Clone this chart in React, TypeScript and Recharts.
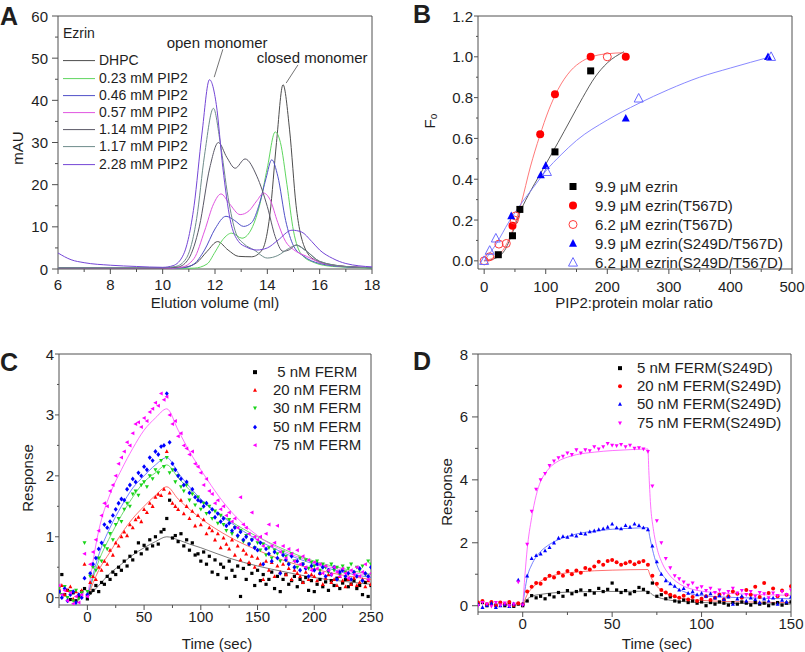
import React from 'react';
import { ComposedChart, Line, Scatter, XAxis, YAxis, ReferenceArea, ReferenceLine, ReferenceDot, Legend } from 'recharts';

const FONT = '"Liberation Sans", Arial, Helvetica, sans-serif';
const INK = '#1e1e1e';
const AX = '#505050';

// ---------- A: elution profiles (x = ml, y = mAU)
const A_NAMES = ['DHPC', '0.23 mM PIP2', '0.46 mM PIP2', '0.57 mM PIP2', '1.14 mM PIP2', '1.17 mM PIP2', '2.28 mM PIP2'];
const A_COLORS = ['#4d4d4d', '#5fd65f', '#5050c8', '#e055e0', '#5a5866', '#6e8c8a', '#7446d6'];
const A_DHPC = [[6, 0.3], [8, 0.2], [10, 0.2], [10.8, 0.4], [11.3, 1.5], [11.7, 4.2], [12.1, 6.5], [12.5, 4.5], [12.9, 3.0], [13.4, 2.9], [13.8, 4.5], [14.1, 13], [14.35, 30], [14.6, 43.7], [14.85, 33], [15.1, 15], [15.4, 5.5], [15.8, 2.2], [16.5, 0.9], [17.5, 0.4], [18, 0.3]];
const A_023 = [[6, 0.1], [10, 0.1], [11.2, 0.2], [11.7, 1.2], [12.0, 4], [12.3, 7], [12.64, 8.5], [13.03, 7.3], [13.35, 9], [13.7, 15], [14.0, 24], [14.3, 32.5], [14.5, 30], [14.75, 20], [15.0, 9], [15.3, 3.5], [15.8, 1.5], [16.5, 0.6], [17.5, 0.3], [18, 0.2]];
const A_046 = [[6, 0.3], [8, 0.2], [10, 0.1], [10.8, 0.3], [11.2, 1.2], [11.6, 4.5], [12.0, 9.5], [12.42, 12.5], [12.75, 11.5], [13.09, 10.1], [13.4, 11], [13.7, 15.5], [13.95, 21.5], [14.17, 25.9], [14.4, 22], [14.7, 11.5], [15.0, 5.5], [15.4, 3], [16, 1.3], [17, 0.5], [18, 0.3]];
const A_057 = [[6, 0.2], [10, 0.1], [10.7, 0.4], [11.2, 2.5], [11.6, 9], [11.95, 15.5], [12.23, 17.8], [12.55, 15.5], [12.96, 12.9], [13.3, 13.8], [13.6, 16.2], [13.86, 18], [14.1, 16.5], [14.4, 11], [14.7, 6.5], [15.0, 4.6], [15.5, 3], [16, 1.6], [17, 0.6], [18, 0.4]];
const A_114 = [[6, 0.2], [10, 0.2], [10.6, 0.5], [11.0, 2.5], [11.4, 10], [11.8, 24], [12.13, 30], [12.45, 26.5], [12.77, 23.9], [13.15, 26.1], [13.6, 22], [14.0, 14.8], [14.3, 7.7], [14.6, 4.2], [14.85, 4.6], [15.1, 5.7], [15.5, 4.2], [16, 1.8], [17, 0.6], [18, 0.3]];
const A_117 = [[6, 0.3], [10, 0.3], [10.5, 0.6], [10.9, 2.5], [11.3, 12], [11.6, 27], [11.94, 38.1], [12.2, 30], [12.5, 17], [12.8, 8.5], [13.1, 6], [13.5, 4.5], [14.0, 2.6], [14.4, 3.2], [14.8, 4.8], [15.1, 5.6], [15.5, 4.2], [16, 1.8], [17, 0.6], [18, 0.3]];
const A_228 = [[6, 3.8], [6.5, 2.2], [7, 1.5], [8, 0.9], [9, 0.6], [10, 0.4], [10.4, 0.8], [10.8, 3.5], [11.2, 15], [11.5, 32], [11.79, 44.9], [12.05, 39], [12.3, 24], [12.58, 11.7], [12.9, 6.5], [13.2, 5.2], [13.6, 4.5], [14, 5], [14.4, 6.8], [14.94, 9.2], [15.3, 8.8], [15.7, 6.5], [16, 4.5], [16.5, 2.5], [17, 1.3], [18, 0.5]];
const A_TRACES = [A_DHPC, A_023, A_046, A_057, A_114, A_117, A_228];
const A_X_TICKS = [6, 7, 8, 9, 10, 11, 12, 13, 14, 15, 16, 17, 18];
const A_Y_TICKS = [0, 5, 10, 15, 20, 25, 30, 35, 40, 45, 50, 55, 60];

// ---------- B: Fo vs PIP2:protein ratio
const B_NAMES = ['9.9 μM ezrin', '9.9 μM ezrin(T567D)', '6.2 μM ezrin(T567D)', '9.9 μM ezrin(S249D/T567D)', '6.2 μM ezrin(S249D/T567D)'];
const B_EZ_X = [23, 46, 58, 115, 173];
const B_EZ_Y = [0.03, 0.123, 0.252, 0.534, 0.931];
const B_T9_X = [46, 91, 115, 173, 230];
const B_T9_Y = [0.172, 0.62, 0.816, 1.0, 1.0];
const B_T6_X = [0, 9, 24, 36, 49, 51, 200];
const B_T6_Y = [0, 0.02, 0.082, 0.085, 0.2, 0.22, 1.0];
const B_S9_X = [44, 92, 100, 230, 461];
const B_S9_Y = [0.22, 0.42, 0.466, 0.698, 1.0];
const B_S6_X = [0, 9, 19, 102, 251, 466];
const B_S6_Y = [0, 0.05, 0.11, 0.436, 0.796, 1.0];
const B_EZ_FIT = [[0, 0], [20, 0.015], [35, 0.06], [45, 0.13], [60, 0.25], [75, 0.34], [90, 0.42], [105, 0.5], [120, 0.58], [140, 0.69], [160, 0.8], [180, 0.9], [200, 0.97], [227, 1.025]];
const B_T_FIT = [[0, 0], [15, 0.015], [30, 0.05], [45, 0.14], [60, 0.28], [75, 0.46], [90, 0.61], [105, 0.74], [120, 0.84], [140, 0.93], [160, 0.98], [180, 1.005], [200, 1.015], [228, 1.02]];
const B_S_FIT = [[0, 0], [20, 0.085], [40, 0.19], [60, 0.28], [80, 0.36], [100, 0.44], [125, 0.52], [150, 0.59], [200, 0.69], [250, 0.77], [300, 0.84], [350, 0.9], [400, 0.945], [465, 1.0]];
const B_X_TICKS = [0, 50, 100, 150, 200, 250, 300, 350, 400, 450, 500];
const B_Y_TICKS = [0, 0.1, 0.2, 0.3, 0.4, 0.5, 0.6, 0.7, 0.8, 0.9, 1.0, 1.1, 1.2];

// ---------- C: FERM sensorgrams
const C_NAMES = [' 5 nM FERM', '20 nM FERM', '30 nM FERM', '50 nM FERM', '75 nM FERM'];
const C_T = [
  -25, -22.5, -20, -17.5, -15, -12.5, -10, -7.5, -5, -2.5,
  0, 2.5, 5, 7.5, 10, 12.5, 15, 17.5, 20, 22.5,
  25, 27.5, 30, 32.5, 35, 37.5, 40, 42.5, 45, 47.5,
  50, 52.5, 55, 57.5, 60, 62.5, 65, 67.5, 70, 72.5,
  75, 77.5, 80, 82.5, 85, 87.5, 90, 92.5, 95, 97.5,
  100, 102.5, 105, 107.5, 110, 112.5, 115, 117.5, 120, 122.5,
  125, 127.5, 130, 132.5, 135, 137.5, 140, 142.5, 145, 147.5,
  150, 152.5, 155, 157.5, 160, 162.5, 165, 167.5, 170, 172.5,
  175, 177.5, 180, 182.5, 185, 187.5, 190, 192.5, 195, 197.5,
  200, 202.5, 205, 207.5, 210, 212.5, 215, 217.5, 220, 222.5,
  225, 227.5, 230, 232.5, 235, 237.5, 240, 242.5, 245, 247.5,
  250,
];
const C_5 = [
  0.1, 0.38, 0.05, 0.12, -0.03, 0.08, -0.05, 0.02, 0.1, 0.15,
  -0.02, 0.08, 0.12, 0.2, 0.1, 0.25, 0.22, 0.35, 0.3, 0.42,
  0.38, 0.5, 0.45, 0.6, 0.52, 0.68, 0.62, 0.75, 0.9, 0.72,
  0.86, 0.8, 0.95, 0.85, 1.0, 0.88, 1.08, 1.12, 1.3, 1.6,
  0.98, 1.02, 0.92, 1.05, 0.85, 0.95, 0.78, 0.9, 0.7, 0.72,
  0.6, 0.75, 0.55, 0.68, 0.42, 0.62, 0.38, 0.55, 0.5, 0.32,
  0.6, 0.45, 0.35, 0.52, 0.02, 0.48, 0.3, 0.55, 0.4, 0.2,
  0.45, 0.28, 0.38, 0.22, 0.3, 0.42, 0.15, 0.35, 0.1, 0.3,
  0.38, 0.22, 0.28, 0.35, 0.18, 0.3, 0.25, 0.33, 0.12, 0.28,
  0.1, 0.22, 0.3, 0.18, 0.26, 0.12, 0.28, 0.2, 0.32, 0.15,
  0.24, 0.3, 0.18, 0.22, 0.28, 0.15, 0.2, 0.05, 0.25, 0.02,
  0.2,
];
const C_20 = [
  0.15, 0.2, 0.05, 0.12, 0.18, -0.02, 0.1, 0.05, 0.12, 0.55,
  0.05, 0.25, 0.35, 0.3, 0.5, 0.45, 0.6, 0.55, 0.78, 0.7,
  0.9, 0.85, 1.0, 1.08, 1.02, 1.2, 1.15, 1.28, 1.32, 1.25,
  1.45, 1.4, 1.55, 1.5, 1.65, 1.7, 1.68, 1.78, 2.4, 1.72,
  1.55, 1.5, 1.45, 1.6, 1.38, 1.5, 1.3, 1.42, 1.18, 1.35,
  1.2, 1.28, 1.05, 1.15, 1.1, 0.95, 1.05, 0.82, 0.98, 0.88,
  0.8, 0.95, 0.7, 0.85, 0.62, 0.78, 0.72, 0.58, 0.68, 0.5,
  0.65, 0.55, 0.3, 0.6, 0.45, 0.58, 0.35, 0.52, 0.42, 0.55,
  0.38, 0.48, 0.3, 0.45, 0.4, 0.35, 0.25, 0.42, 0.3, 0.38,
  0.35, 0.28, 0.4, 0.22, 0.32, 0.38, 0.25, 0.3, 0.2, 0.35,
  0.28, 0.18, 0.3, 0.22, 0.32, 0.2, 0.25, 0.3, 0.18, 0.28,
  0.22,
];
const C_30 = [
  0.15, 0.05, 0.18, 0.0, 0.1, -0.05, 0.12, -0.02, 0.08, 0.9,
  0.1, 0.35, 0.5, 0.45, 0.65, 0.6, 0.85, 0.8, 1.05, 0.95,
  1.2, 1.3, 1.25, 1.45, 1.55, 1.5, 1.7, 1.75, 1.68, 1.85,
  1.9, 1.82, 2.0, 1.95, 2.1, 2.05, 2.25, 2.15, 2.3, 2.05,
  2.1, 1.9, 2.0, 1.82, 1.75, 1.85, 1.6, 1.7, 1.52, 1.65,
  1.45, 1.55, 1.38, 1.5, 1.3, 1.42, 1.22, 1.35, 1.2, 1.1,
  1.28, 1.05, 1.15, 1.0, 1.1, 0.92, 1.02, 0.88, 0.95, 0.82,
  0.9, 0.78, 0.88, 0.7, 0.82, 0.65, 0.78, 0.72, 0.6, 0.75,
  0.68, 0.55, 0.72, 0.6, 0.5, 0.65, 0.55, 0.62, 0.48, 0.58,
  0.52, 0.6, 0.45, 0.55, 0.5, 0.42, 0.55, 0.45, 0.5, 0.38,
  0.52, 0.42, 0.48, 0.55, 0.4, 0.5, 0.45, 0.52, 0.38, 0.6,
  0.55,
];
const C_50 = [
  0.1, 0.0, 0.15, -0.05, 0.05, 0.1, -0.08, 0.05, 0.0, 0.32,
  0.05, 0.4, 0.55, 0.65, 0.8, 0.9, 1.2, 1.15, 1.25, 1.35,
  1.45, 1.55, 1.62, 1.6, 1.78, 1.85, 1.95, 1.9, 2.05, 2.0,
  2.15, 2.1, 2.3, 2.25, 2.4, 2.35, 2.48, 2.5, 3.35, 2.55,
  2.2, 2.1, 2.0, 1.95, 1.85, 1.9, 1.72, 1.78, 1.65, 1.6,
  1.58, 1.5, 1.55, 1.4, 1.45, 1.32, 1.38, 1.25, 1.3, 1.18,
  1.22, 1.1, 1.15, 1.02, 1.08, 0.95, 1.0, 0.88, 0.95, 0.82,
  0.78, 0.9, 0.55, 0.8, 0.72, 0.6, 0.75, 0.65, 0.4, 0.7,
  0.62, 0.55, 0.68, 0.5, 0.6, 0.45, 0.55, 0.48, 0.35, 0.52,
  0.45, 0.55, 0.4, 0.5, 0.35, 0.45, 0.38, 0.5, 0.3, 0.42,
  0.45, 0.35, 0.4, 0.3, 0.42, 0.35, 0.48, 0.28, 0.4, 0.35,
  0.5,
];
const C_75 = [
  0.2, 0.05, 0.12, -0.05, 0.08, -0.1, 0.02, -0.08, 0.05, 0.72,
  0.02, 0.55, 0.75, 0.95, 1.1, 1.35, 1.55, 1.5, 1.75, 1.85,
  2.0, 2.2, 2.3, 2.4, 2.55, 2.5, 2.7, 2.85, 2.88, 2.8,
  2.95, 2.9, 3.05, 3.1, 3.2, 3.15, 3.35, 3.25, 3.3, 3.0,
  2.85, 2.9, 2.65, 2.7, 2.5, 2.45, 2.35, 2.4, 2.2, 2.15,
  2.05, 1.85, 1.95, 1.75, 1.7, 1.55, 1.6, 1.45, 1.5, 1.35,
  1.4, 1.25, 1.3, 1.15, 1.65, 1.2, 1.15, 1.05, 1.4, 1.0,
  0.95, 1.0, 0.85, 1.05, 1.2, 0.85, 0.9, 1.18, 0.75, 0.85,
  0.65, 0.8, 0.72, 0.6, 0.78, 0.55, 0.68, 0.5, 0.62, 0.45,
  0.58, 0.48, 0.55, 0.4, 0.52, 0.45, 0.38, 0.5, 0.42, 0.35,
  0.48, 0.4, 0.32, 0.45, 0.38, 0.5, 0.35, 0.42, 0.55, 0.3,
  0.4,
];
const C_5_FIT = [[0, 0], [10, 0.2], [20, 0.4], [30, 0.55], [40, 0.7], [50, 0.82], [60, 0.92], [70, 1.0], [80, 0.95], [90, 0.88], [100, 0.82], [125, 0.65], [150, 0.52], [175, 0.42], [200, 0.33], [225, 0.27], [250, 0.22]];
const C_20_FIT = [[0, 0], [10, 0.45], [20, 0.75], [30, 1.05], [40, 1.3], [50, 1.5], [60, 1.68], [70, 1.82], [80, 1.62], [90, 1.45], [100, 1.3], [125, 1.0], [150, 0.78], [175, 0.6], [200, 0.47], [225, 0.37], [250, 0.3]];
const C_30_FIT = [[0, 0], [10, 0.6], [20, 1.0], [30, 1.35], [40, 1.65], [50, 1.9], [60, 2.05], [70, 2.18], [80, 1.97], [90, 1.77], [100, 1.6], [125, 1.27], [150, 1.0], [175, 0.78], [200, 0.6], [225, 0.48], [250, 0.38]];
const C_50_FIT = [[0, 0], [10, 0.7], [20, 1.15], [30, 1.5], [40, 1.8], [50, 2.0], [60, 2.18], [70, 2.3], [80, 2.05], [90, 1.82], [100, 1.62], [125, 1.25], [150, 0.95], [175, 0.72], [200, 0.55], [225, 0.42], [250, 0.33]];
const C_75_FIT = [[0, 0], [10, 1.1], [20, 1.7], [30, 2.1], [40, 2.45], [50, 2.75], [60, 2.95], [70, 3.1], [80, 2.75], [90, 2.4], [100, 2.1], [125, 1.45], [150, 1.02], [175, 0.75], [200, 0.58], [225, 0.45], [250, 0.36]];
const C_X_TICKS = [-25, 0, 25, 50, 75, 100, 125, 150, 175, 200, 225, 250];
const C_Y_TICKS = [0, 0.5, 1, 1.5, 2, 2.5, 3, 3.5, 4];

// ---------- D: FERM(S249D) sensorgrams
const D_NAMES = ['5 nM FERM(S249D)', '20 nM FERM(S249D)', '50 nM FERM(S249D)', '75 nM FERM(S249D)'];
const D_T = [
  -25, -22.5, -20, -17.5, -15, -12.5, -10, -7.5, -5, -2.5,
  0, 2.5, 5, 7.5, 10, 12.5, 15, 17.5, 20, 22.5,
  25, 27.5, 30, 32.5, 35, 37.5, 40, 42.5, 45, 47.5,
  50, 52.5, 55, 57.5, 60, 62.5, 65, 67.5, 70, 72.5,
  75, 77.5, 80, 82.5, 85, 87.5, 90, 92.5, 95, 97.5,
  100, 102.5, 105, 107.5, 110, 112.5, 115, 117.5, 120, 122.5,
  125, 127.5, 130, 132.5, 135, 137.5, 140, 142.5, 145, 147.5,
  150,
];
const D_5 = [
  0.05, 0.1, 0.0, 0.08, 0.02, 0.1, 0.0, 0.05, -0.02, 0.05,
  0.0, 0.15, 0.32, 0.25, 0.3, 0.22, 0.35, 0.28, 0.42, 0.3,
  0.48, 0.38, 0.45, 0.5, 0.35, 0.48, 0.4, 0.55, 0.45, 0.52,
  0.72, 0.5, 0.42, 0.48, 0.38, 0.45, 0.58, 0.52, 0.42, 0.72,
  0.3, 0.35, 0.22, 0.28, 0.15, 0.12, 0.18, 0.1, 0.15, 0.08,
  0.12, 0.0, 0.1, 0.05, 0.12, 0.08, 0.02, 0.1, 0.05, 0.12,
  0.08, 0.02, 0.1, 0.05, 0.08, 0.0, 0.06, 0.1, 0.02, 0.08,
  0.12,
];
const D_20 = [
  0.1, 0.15, 0.05, 0.12, 0.0, 0.1, 0.05, 0.12, 0.02, 0.08,
  0.05, 0.45, 0.6, 0.72, 0.7, 0.85, 0.95, 0.9, 1.05, 0.95,
  1.1, 1.0, 1.12, 1.05, 1.2, 1.15, 1.25, 1.4, 1.3, 1.42,
  1.45, 1.38, 1.3, 1.35, 1.4, 1.32, 1.38, 1.42, 1.3, 0.95,
  0.7, 0.5, 0.42, 0.35, 0.3, 0.25, 0.32, 0.2, 0.28, 0.15,
  0.22, 0.3, 0.18, 0.25, 0.35, 0.2, 0.3, 0.45, 0.38, 0.25,
  0.5, 0.35, 0.6, 0.28, 0.72, 0.4, 0.55, 0.3, 0.48, 0.35,
  0.62,
];
const D_50 = [
  0.05, -0.05, 0.02, 0.08, -0.05, 0.0, 0.05, -0.02, 0.06, 0.82,
  0.05, 0.95, 1.5, 1.6, 1.65, 1.75, 1.85, 2.0, 2.15, 2.2,
  2.18, 2.25, 2.22, 2.3, 2.28, 2.35, 2.38, 2.42, 2.45, 2.5,
  2.6, 2.48, 2.45, 2.55, 2.5, 2.6, 2.55, 2.48, 2.42, 1.9,
  1.4, 1.0, 0.8, 0.7, 0.62, 0.5, 0.55, 0.4, 0.45, 0.35,
  0.4, 0.3, 0.38, 0.25, 0.32, 0.2, 0.28, 0.05, 0.22, 0.3,
  0.15, 0.25, 0.2, 0.1, 0.22, 0.15, 0.25, 0.05, 0.18, 0.12,
  0.28,
];
const D_75 = [
  0.0, 0.1, 0.05, -0.02, 0.1, 0.02, 0.08, 0.0, 0.05, 0.75,
  0.02, 1.95, 3.0, 3.7, 4.0, 4.2, 4.45, 4.6, 4.7, 4.75,
  4.85, 4.8, 4.95, 4.85, 4.95, 4.92, 5.05, 4.98, 5.05, 5.15,
  5.1, 5.08, 5.12, 5.05, 5.1, 5.0, 5.02, 4.98, 4.9, 3.8,
  2.7, 2.0, 1.5, 1.2, 0.95, 0.85, 0.75, 0.65, 0.72, 0.55,
  0.6, 0.48, 0.55, 0.42, 0.5, 0.38, 0.45, 0.55, 0.4, 0.48,
  0.35, 0.45, 0.3, 0.42, 0.38, 0.25, 0.4, 0.32, 0.45, 0.35,
  0.5,
];
const D_5_FIT = [[0, 0], [2.5, 0.2], [5, 0.3], [10, 0.36], [20, 0.42], [40, 0.45], [70, 0.46], [72.5, 0.35], [75, 0.28], [80, 0.2], [90, 0.13], [100, 0.1], [125, 0.07], [150, 0.05]];
const D_20_FIT = [[0, 0], [2.5, 0.35], [5, 0.55], [7.5, 0.68], [10, 0.78], [15, 0.92], [20, 1.0], [30, 1.07], [40, 1.11], [50, 1.13], [70, 1.15], [71, 1.0], [72.5, 0.82], [75, 0.62], [80, 0.4], [85, 0.28], [90, 0.22], [100, 0.17], [125, 0.12], [150, 0.1]];
const D_50_FIT = [[0, 0], [2.5, 0.9], [5, 1.3], [7.5, 1.55], [10, 1.72], [15, 1.95], [20, 2.1], [25, 2.2], [30, 2.28], [40, 2.37], [50, 2.43], [60, 2.46], [70, 2.48], [71, 2.2], [72.5, 1.8], [75, 1.3], [80, 0.85], [85, 0.6], [90, 0.45], [100, 0.32], [125, 0.25], [150, 0.22]];
const D_75_FIT = [[0, 0], [2.5, 1.8], [5, 2.8], [7.5, 3.5], [10, 3.95], [12.5, 4.2], [15, 4.38], [20, 4.6], [25, 4.72], [30, 4.8], [40, 4.88], [50, 4.93], [60, 4.96], [70, 4.98], [70.5, 4.3], [71.5, 3.2], [73, 2.45], [75, 1.85], [78, 1.35], [82, 0.98], [86, 0.76], [90, 0.62], [95, 0.52], [105, 0.43], [120, 0.38], [150, 0.33]];
const D_X_TICKS = [-25, 0, 25, 50, 75, 100, 125, 150];
const D_Y_TICKS = [0, 1, 2, 3, 4, 5, 6, 7, 8];

const xy = (rows: number[][]) => rows.map(([x, y]) => ({ x, y }));
const zip = (xs: number[], ys: number[]) => xs.map((x, i) => ({ x, y: ys[i] }));

// ---------- markers
type MarkKind = 'square' | 'circle' | 'up' | 'down' | 'diamond' | 'left';

function Mark({ kind, x, y, s, color, open }: { kind: MarkKind; x: number; y: number; s: number; color: string; open?: boolean }) {
  const r = s / 2;
  const st = { fill: open ? 'none' : color, stroke: open ? color : 'none', strokeWidth: 1 };
  switch (kind) {
    case 'square': return <rect x={x - r} y={y - r} width={s} height={s} {...st} />;
    case 'circle': return <circle cx={x} cy={y} r={r} {...st} />;
    case 'up': return <polygon points={`${x},${y - r * 1.1} ${x + r},${y + r * 0.8} ${x - r},${y + r * 0.8}`} {...st} />;
    case 'down': return <polygon points={`${x},${y + r * 1.1} ${x + r},${y - r * 0.8} ${x - r},${y - r * 0.8}`} {...st} />;
    case 'diamond': return <polygon points={`${x},${y - r * 1.2} ${x + r},${y} ${x},${y + r * 1.2} ${x - r},${y}`} {...st} />;
    default: return <polygon points={`${x - r * 1.1},${y} ${x + r * 0.8},${y - r} ${x + r * 0.8},${y + r}`} {...st} />;
  }
}

const shapeOf = (kind: MarkKind, s: number, color: string, open?: boolean) => (p: any) =>
  <Mark kind={kind} x={p.cx} y={p.cy} s={s} color={color} open={open} />;

// ---------- ticks (major with label, minor without)
type TickCfg = { major: number[]; len: number; minor: number; off: number; fmt?: (v: number) => string };
const isMajor = (c: TickCfg, v: number) => c.major.some(m => Math.abs(m - v) < 1e-6);
const label = (c: TickCfg, v: number) => (c.fmt ? c.fmt(v) : String(v));

const bottomTick = (c: TickCfg) => (p: any) => {
  const v = p.payload.value;
  const big = isMajor(c, v);
  return (
    <g>
      <line x1={p.x} x2={p.x} y1={p.y} y2={p.y + (big ? c.len : c.minor)} stroke={AX} />
      {big && <text x={p.x} y={p.y + c.off} textAnchor="middle" dominantBaseline="central" fontSize={15} fill={INK}>{label(c, v)}</text>}
    </g>
  );
};

const leftTick = (c: TickCfg) => (p: any) => {
  const v = p.payload.value;
  const big = isMajor(c, v);
  return (
    <g>
      <line x1={p.x - (big ? c.len : c.minor)} x2={p.x} y1={p.y} y2={p.y} stroke={AX} />
      {big && <text x={p.x - c.off} y={p.y} textAnchor="end" dominantBaseline="central" fontSize={15} fill={INK}>{label(c, v)}</text>}
    </g>
  );
};

const title = (x: number, y: number, body: React.ReactNode, rotate = false) => ({
  content: () => (
    <text x={x} y={y} textAnchor="middle" dominantBaseline="central" fontSize={15} fill={INK}
      transform={rotate ? `rotate(-90 ${x} ${y})` : undefined}>{body}</text>
  ),
});

// ---------- legend
type Item = { label: string; color: string; kind: MarkKind | 'line'; size?: number; open?: boolean };

function Rows({ items, row, markW, gap, head }: { items: Item[]; row: number; markW: number; gap: number; head?: string }) {
  return (
    <div style={{ fontFamily: FONT, fontSize: 15, color: INK, whiteSpace: 'pre' }}>
      {head && <div style={{ height: row, lineHeight: `${row}px`, fontSize: 14, marginBottom: 9.8 }}>{head}</div>}
      {items.map(it => (
        <div key={it.label} style={{ display: 'flex', alignItems: 'center', height: row }}>
          <svg width={markW} height={row} style={{ display: 'block', flex: 'none' }}>
            {it.kind === 'line'
              ? <line x1={0} x2={markW} y1={row / 2} y2={row / 2} stroke={it.color} />
              : <Mark kind={it.kind} x={markW / 2} y={row / 2} s={it.size ?? 4} color={it.color} open={it.open} />}
          </svg>
          <span style={{ marginLeft: gap, lineHeight: `${row}px`, fontSize: head ? 14 : 15 }}>{it.label}</span>
        </div>
      ))}
    </div>
  );
}

const axisBase = { type: 'number' as const, interval: 0 as const, allowDataOverflow: true, axisLine: false, tickLine: false, tickSize: 0, tickMargin: 0 };

function PanelA() {
  const items: Item[] = A_NAMES.map((n, i) => ({ label: n, color: A_COLORS[i], kind: 'line' }));
  return (
    <div style={{ position: 'absolute', left: 0, top: 0 }}>
      <ComposedChart width={400} height={330} margin={{ top: 16, right: 28, bottom: 16, left: 0 }}>
        <XAxis {...axisBase} dataKey="x" domain={[6, 18]} ticks={A_X_TICKS} height={45}
          tick={bottomTick({ major: [6, 8, 10, 12, 14, 16, 18], len: 5, minor: 3, off: 15 })}
          label={title(215, 302, 'Elution volume (ml)')} />
        <YAxis {...axisBase} dataKey="y" domain={[0, 60]} ticks={A_Y_TICKS} width={58}
          tick={leftTick({ major: [0, 10, 20, 30, 40, 50, 60], len: 6, minor: 3, off: 10 })}
          label={title(17, 148, 'mAU', true)} />
        {A_TRACES.map((t, i) => (
          <Line key={A_NAMES[i]} name={A_NAMES[i]} data={xy(t)} dataKey="y" type="monotone" stroke={A_COLORS[i]}
            strokeWidth={1} dot={false} isAnimationActive={false} />
        ))}
        <ReferenceLine segment={[{ x: 12.3, y: 52.1 }, { x: 11.97, y: 45.5 }]} stroke={AX} strokeWidth={0.8} ifOverflow="visible" />
        <ReferenceLine segment={[{ x: 15.17, y: 48.4 }, { x: 14.72, y: 44.1 }]} stroke={AX} strokeWidth={0.8} ifOverflow="visible" />
        <ReferenceDot x={12.08} y={53.6} r={0} fill="none" stroke="none" ifOverflow="visible"
          label={{ value: 'open monomer', position: 'center', fontSize: 15, fill: INK }} />
        <ReferenceDot x={15.71} y={50} r={0} fill="none" stroke="none" ifOverflow="visible"
          label={{ value: 'closed monomer', position: 'center', fontSize: 15, fill: INK }} />
        <ReferenceArea x1={6} x2={18} y1={0} y2={60} fill="none" stroke={AX} ifOverflow="visible" />
        <Legend layout="vertical" align="center" verticalAlign="middle" wrapperStyle={{ left: 63, top: 25.4, width: 'auto' }}
          content={() => <Rows items={items} row={17.2} markW={32} gap={4} head="Ezrin" />} />
      </ComposedChart>
    </div>
  );
}

function PanelB() {
  const series = [
    { x: B_EZ_X, y: B_EZ_Y, kind: 'square' as MarkKind, s: 7, color: '#000000', open: false },
    { x: B_T9_X, y: B_T9_Y, kind: 'circle' as MarkKind, s: 8, color: '#ff0000', open: false },
    { x: B_T6_X, y: B_T6_Y, kind: 'circle' as MarkKind, s: 8, color: '#ff3b3b', open: true },
    { x: B_S9_X, y: B_S9_Y, kind: 'up' as MarkKind, s: 8, color: '#0000ff', open: false },
    { x: B_S6_X, y: B_S6_Y, kind: 'up' as MarkKind, s: 9, color: '#6a6aff', open: true },
  ];
  const items: Item[] = series.map((s, i) => ({ label: B_NAMES[i], color: s.color, kind: s.kind, size: s.s, open: s.open }));
  const fits = [[B_EZ_FIT, '#4a4a4a'], [B_T_FIT, '#ff6a6a'], [B_S_FIT, '#7a7aff']] as [number[][], string][];
  return (
    <div style={{ position: 'absolute', left: 400, top: 0 }}>
      <ComposedChart width={405} height={330} margin={{ top: 16, right: 13, bottom: 16, left: 0 }}>
        <XAxis {...axisBase} dataKey="x" domain={[-10, 500]} ticks={B_X_TICKS} height={45}
          tick={bottomTick({ major: [0, 100, 200, 300, 400, 500], len: 5, minor: 3, off: 17 })}
          label={title(234, 302, 'PIP2:protein molar ratio')} />
        <YAxis {...axisBase} dataKey="y" domain={[-0.04, 1.2]} ticks={B_Y_TICKS} width={78}
          tick={leftTick({ major: [0, 0.2, 0.4, 0.6, 0.8, 1.0, 1.2], len: 4, minor: 2, off: 5, fmt: v => v.toFixed(1) })}
          label={title(29, 121, <><tspan>F</tspan><tspan fontSize={10} dy={4}>o</tspan></>, true)} />
        {fits.map(([f, c], i) => (
          <Line key={`fit${i}`} data={xy(f)} dataKey="y" type="monotone" stroke={c} strokeWidth={0.9}
            dot={false} legendType="none" isAnimationActive={false} />
        ))}
        {series.map((s, i) => (
          <Scatter key={B_NAMES[i]} name={B_NAMES[i]} data={zip(s.x, s.y)} shape={shapeOf(s.kind, s.s, s.color, s.open)} isAnimationActive={false} />
        ))}
        <ReferenceArea x1={-10} x2={500} y1={-0.04} y2={1.2} fill="none" stroke={AX} ifOverflow="visible" />
        <Legend layout="vertical" align="center" verticalAlign="middle" wrapperStyle={{ left: 165, top: 176.5, width: 'auto' }}
          content={() => <Rows items={items} row={19} markW={16} gap={14} />} />
      </ComposedChart>
    </div>
  );
}

const C_SERIES = [
  { y: C_5, fit: C_5_FIT, kind: 'square' as MarkKind, color: '#000000', line: '#555555' },
  { y: C_20, fit: C_20_FIT, kind: 'up' as MarkKind, color: '#ff0000', line: '#ff4a4a' },
  { y: C_30, fit: C_30_FIT, kind: 'down' as MarkKind, color: '#19d419', line: '#4ed24e' },
  { y: C_50, fit: C_50_FIT, kind: 'diamond' as MarkKind, color: '#0000ff', line: '#5060ff' },
  { y: C_75, fit: C_75_FIT, kind: 'left' as MarkKind, color: '#ff00ff', line: '#ff4cff' },
];

function PanelC() {
  const items: Item[] = C_SERIES.map((s, i) => ({ label: C_NAMES[i], color: s.color, kind: s.kind, size: 4 }));
  return (
    <div style={{ position: 'absolute', left: 0, top: 330 }}>
      <ComposedChart width={400} height={322} margin={{ top: 24, right: 29, bottom: 7, left: 0 }}>
        <XAxis {...axisBase} dataKey="x" domain={[-25, 250]} ticks={C_X_TICKS} height={40}
          tick={bottomTick({ major: [0, 50, 100, 150, 200, 250], len: 5, minor: 3, off: 11.5 })}
          label={title(217, 313, 'Time (sec)')} />
        <YAxis {...axisBase} dataKey="y" domain={[-0.12, 4]} ticks={C_Y_TICKS} width={59}
          tick={leftTick({ major: [0, 1, 2, 3, 4], len: 4, minor: 2, off: 5 })}
          label={title(27.5, 148, 'Response', true)} />
        {C_SERIES.map((s, i) => (
          <Scatter key={C_NAMES[i]} name={C_NAMES[i]} data={zip(C_T, s.y)} shape={shapeOf(s.kind, s.kind === 'square' ? 3.2 : 4, s.color)} isAnimationActive={false} />
        ))}
        {C_SERIES.map((s, i) => (
          <Line key={`cfit${i}`} data={xy(s.fit)} dataKey="y" type="monotone" stroke={s.line} strokeWidth={0.8}
            dot={false} legendType="none" isAnimationActive={false} />
        ))}
        <ReferenceArea x1={-25} x2={250} y1={-0.12} y2={4} fill="none" stroke={AX} ifOverflow="visible" />
        <Legend layout="vertical" align="center" verticalAlign="middle" wrapperStyle={{ left: 250, top: 32.85, width: 'auto' }}
          content={() => <Rows items={items} row={18.3} markW={10} gap={13} />} />
      </ComposedChart>
    </div>
  );
}

const D_SERIES = [
  { y: D_5, fit: D_5_FIT, kind: 'square' as MarkKind, color: '#000000', line: '#555555' },
  { y: D_20, fit: D_20_FIT, kind: 'circle' as MarkKind, color: '#ff0000', line: '#ff4a4a' },
  { y: D_50, fit: D_50_FIT, kind: 'up' as MarkKind, color: '#0000ff', line: '#5060ff' },
  { y: D_75, fit: D_75_FIT, kind: 'down' as MarkKind, color: '#ff00ff', line: '#ff4cff' },
];

function PanelD() {
  const items: Item[] = D_SERIES.map((s, i) => ({ label: D_NAMES[i], color: s.color, kind: s.kind, size: 4 }));
  return (
    <div style={{ position: 'absolute', left: 400, top: 330 }}>
      <ComposedChart width={405} height={322} margin={{ top: 24, right: 14, bottom: 6, left: 0 }}>
        <XAxis {...axisBase} dataKey="x" domain={[-25, 150]} ticks={D_X_TICKS} height={34}
          tick={bottomTick({ major: [0, 50, 100, 150], len: 5, minor: 3, off: 11.5 })}
          label={title(257, 313, 'Time (sec)')} />
        <YAxis {...axisBase} dataKey="y" domain={[-0.2, 8]} ticks={D_Y_TICKS} width={78}
          tick={leftTick({ major: [0, 2, 4, 6, 8], len: 6, minor: 3, off: 10 })}
          label={title(46.7, 162, 'Response', true)} />
        {D_SERIES.map((s, i) => (
          <Scatter key={D_NAMES[i]} name={D_NAMES[i]} data={zip(D_T, s.y)} shape={shapeOf(s.kind, s.kind === 'square' ? 3.2 : 4, s.color)} isAnimationActive={false} />
        ))}
        {D_SERIES.map((s, i) => (
          <Line key={`dfit${i}`} data={xy(s.fit)} dataKey="y" type="monotone" stroke={s.line} strokeWidth={0.8}
            dot={false} legendType="none" isAnimationActive={false} />
        ))}
        <ReferenceArea x1={-25} x2={150} y1={-0.2} y2={8} fill="none" stroke={AX} ifOverflow="visible" />
        <Legend layout="vertical" align="center" verticalAlign="middle" wrapperStyle={{ left: 215, top: 28.85, width: 'auto' }}
          content={() => <Rows items={items} row={18.3} markW={10} gap={12} />} />
      </ComposedChart>
    </div>
  );
}

const TAGS: [string, number, number][] = [['A', 0, 4], ['B', 413, 2], ['C', 0, 350], ['D', 413, 349]];

export default function App() {
  return (
    <div style={{ position: 'absolute', left: 0, top: 0, width: 805, height: 652, background: '#fff', fontFamily: FONT, color: INK, overflow: 'hidden' }}>
      <PanelA />
      <PanelB />
      <PanelC />
      <PanelD />
      {TAGS.map(([t, l, tp]) => (
        <div key={t} style={{ position: 'absolute', left: l, top: tp, fontSize: 25, lineHeight: '25px', fontWeight: 700 }}>{t}</div>
      ))}
    </div>
  );
}
